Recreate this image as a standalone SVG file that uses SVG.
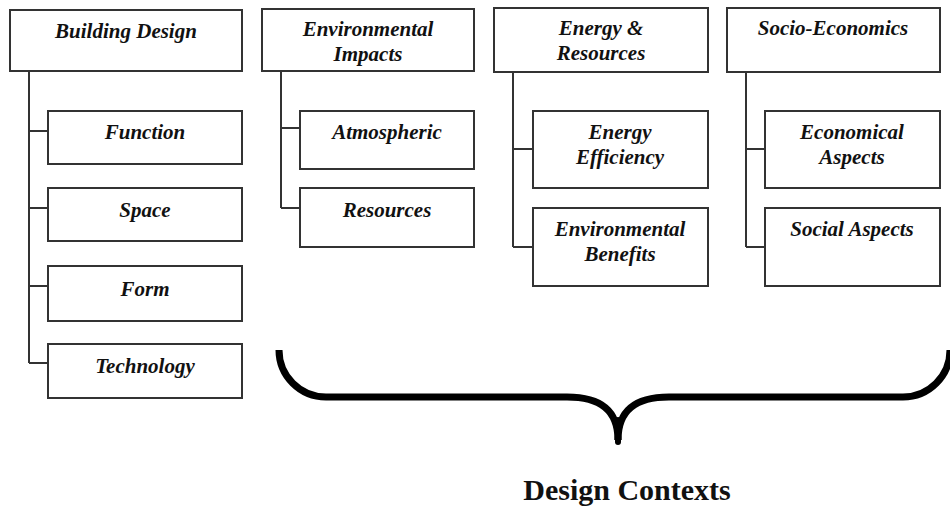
<svg xmlns="http://www.w3.org/2000/svg" width="950" height="510" viewBox="0 0 950 510">
<style>
.box{fill:#fff;stroke:#333;stroke-width:2}
.t{font-family:"Liberation Serif","Times New Roman",serif;font-weight:bold;font-style:italic;font-size:21px;fill:#111;text-anchor:middle}
.ln{fill:none;stroke:#333;stroke-width:2}
.brace{fill:none;stroke:#000;stroke-width:7}
.title{font-family:"Liberation Serif","Times New Roman",serif;font-weight:bold;font-size:30px;fill:#111;text-anchor:middle}
</style>
<rect width="950" height="510" fill="#fff"/>
<g id="connectors">
<path class="ln" d="M29 71 V363 M29 131 H48 M29 208 H48 M29 286 H48 M29 363 H48"/>
<path class="ln" d="M281 71 V208 M281 128 H300 M281 208 H300"/>
<path class="ln" d="M513 72 V247 M513 149 H533 M513 247 H533"/>
<path class="ln" d="M746 72 V247 M746 149 H765 M746 247 H765"/>
</g>
<g id="building-design"><rect class="box" x="10" y="10" width="232" height="61"/><text class="t" x="126" y="38">Building Design</text></g>
<g id="function"><rect class="box" x="48" y="111" width="194" height="53"/><text class="t" x="145" y="139">Function</text></g>
<g id="space"><rect class="box" x="48" y="188" width="194" height="53"/><text class="t" x="145" y="217">Space</text></g>
<g id="form"><rect class="box" x="48" y="266" width="194" height="55"/><text class="t" x="145" y="296">Form</text></g>
<g id="technology"><rect class="box" x="48" y="344" width="194" height="54"/><text class="t" x="145" y="373">Technology</text></g>
<g id="environmental-impacts"><rect class="box" x="262" y="9" width="212" height="62"/><text class="t" x="368" y="36">Environmental</text><text class="t" x="368" y="61">Impacts</text></g>
<g id="atmospheric"><rect class="box" x="300" y="111" width="174" height="58"/><text class="t" x="387" y="139">Atmospheric</text></g>
<g id="resources"><rect class="box" x="300" y="188" width="174" height="59"/><text class="t" x="387" y="217">Resources</text></g>
<g id="energy-resources"><rect class="box" x="494" y="8" width="214" height="64"/><text class="t" x="601" y="35">Energy &amp;</text><text class="t" x="601" y="60">Resources</text></g>
<g id="energy-efficiency"><rect class="box" x="533" y="111" width="175" height="77"/><text class="t" x="620" y="139">Energy</text><text class="t" x="620" y="164">Efficiency</text></g>
<g id="environmental-benefits"><rect class="box" x="533" y="208" width="175" height="78"/><text class="t" x="620" y="236">Environmental</text><text class="t" x="620" y="261">Benefits</text></g>
<g id="socio-economics"><rect class="box" x="727" y="8" width="213" height="64"/><text class="t" x="833" y="35">Socio-Economics</text></g>
<g id="economical-aspects"><rect class="box" x="765" y="111" width="175" height="77"/><text class="t" x="852" y="139">Economical</text><text class="t" x="852" y="164">Aspects</text></g>
<g id="social-aspects"><rect class="box" x="765" y="208" width="175" height="78"/><text class="t" x="852" y="236">Social Aspects</text></g>
<g id="design-contexts">
<path class="brace" d="M279 350 A47 47 0 0 0 326 397 H567 C600 397 618 410 618 440"/>
<path class="brace" d="M618 440 C618 410 636 397 669 397 H903 A47 47 0 0 0 950 350"/>
<path d="M618 420 V442" stroke="#000" stroke-width="6" stroke-linecap="round"/>
<text class="title" x="627" y="500">Design Contexts</text>
</g>
</svg>
